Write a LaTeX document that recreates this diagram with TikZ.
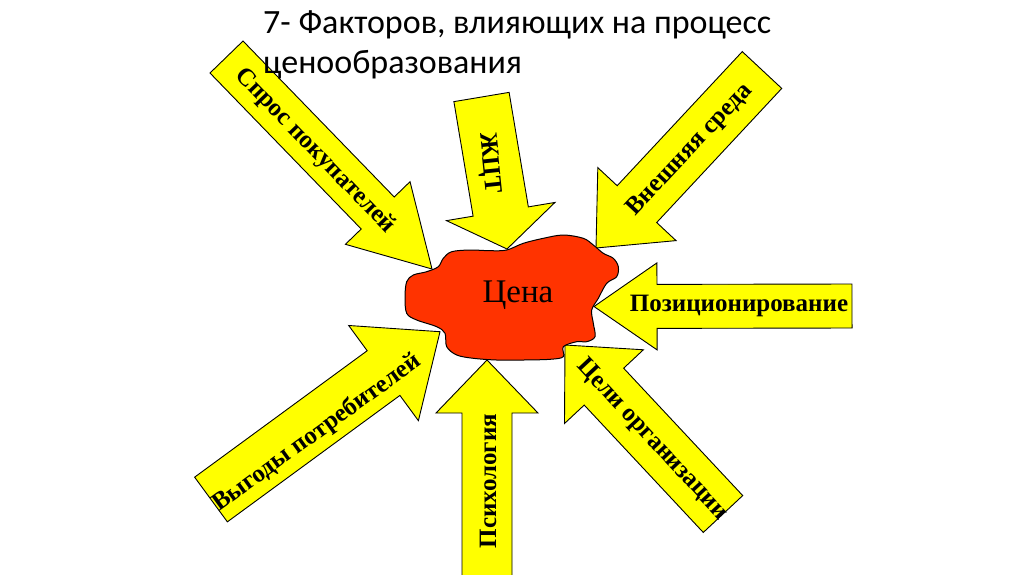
\documentclass[tikz,border=0pt]{standalone}
\usepackage{fontspec}
\setmainfont{Liberation Serif}
\newfontfamily\titlefont{Carlito}
\usetikzlibrary{calc}
\definecolor{factoryellow}{RGB}{255,255,0}
\definecolor{pricered}{RGB}{255,51,0}
\tikzset{
  factor/.style={draw=black,line width=0.9pt,fill=factoryellow,line join=miter},
  factortext/.style={font=\fontsize{25}{30}\selectfont\bfseries,inner sep=0pt},
  blob/.style={draw=black,line width=1pt,fill=pricered},
  titletext/.style={font=\titlefont\fontsize{34}{40}\selectfont,align=left,inner sep=0pt}
}
% block arrow: tail, tip, shaft half width, head half width, head length
\newcommand{\blockarrow}[5]{%
  \coordinate (hb) at ($(#2)!#5!(#1)$);
  \draw[factor] ($(#1)!#3!90:(#2)$) -- ($(hb)!#3!90:(#2)$) -- ($(hb)!#4!90:(#2)$)
    -- (#2) -- ($(hb)!#4!-90:(#2)$) -- ($(hb)!#3!-90:(#2)$) -- ($(#1)!#3!-90:(#2)$) -- cycle;}

\begin{document}
\begin{tikzpicture}[x=1pt,y=-1pt]
  \useasboundingbox[fill=white] (0,0) rectangle (1024,574);

  %% arrow ends
  \coordinate (demandtail) at (226.5,57);   \coordinate (demandtip) at (432,269);
  \coordinate (lifetail) at (481.5,97);     \coordinate (lifetip) at (507,249);
  \coordinate (outertail) at (762,70);      \coordinate (outertip) at (596,248);
  \coordinate (positail) at (852,306);      \coordinate (positip) at (594,306.5);
  \coordinate (goaltail) at (723,514);      \coordinate (goaltip) at (565,345);
  \coordinate (psychtail) at (487,578);     \coordinate (psychtip) at (487,360);
  \coordinate (benefittail) at (211,499.5); \coordinate (benefittip) at (440,331.7);

  %% arrows
  \blockarrow{demandtail}{demandtip}{23pt}{45pt}{78pt}
  \blockarrow{lifetail}{lifetip}{28pt}{55pt}{38pt}
  \blockarrow{outertail}{outertip}{27pt}{53.5pt}{60pt}
  \blockarrow{positail}{positip}{22pt}{43.5pt}{63pt}
  \blockarrow{goaltail}{goaltip}{27pt}{54pt}{57pt}
  \blockarrow{psychtail}{psychtip}{25pt}{51pt}{53pt}
  \blockarrow{benefittail}{benefittip}{27.7pt}{59pt}{70pt}

  %% price blob
  \draw[blob] plot[smooth cycle,tension=0.55] coordinates {
    (451.7,251.7) (470,250) (490,250.7) (506.7,250) (523.3,243.3) (543.3,238.3)
    (563.3,235) (583.3,238.3) (593.3,245) (603.3,253.3) (613.3,258.3) (618.3,266.7)
    (616.7,276.7) (606.7,283.3) (598.3,298.3) (591.7,310) (593.3,323.3) (595,336.7)
    (586.7,341.7) (576.7,341.7) (563.3,346.7) (563.3,356.7) (550,359.3) (523.3,360)
    (496.7,360) (473.3,358.3) (456.7,355) (446.7,346.7) (445,333.3) (436.7,326.7)
    (416.7,320) (406.7,313.3) (405,296.7) (406.7,281.7) (413.3,275) (426.7,271.7)
    (438.3,266.7) (443.3,258.3)};
  \node[font=\fontsize{33}{36}\selectfont,inner sep=0pt] (price) at (518,295) {Цена};

  %% labels
  \node[factortext,rotate=-46] (demand) at (315,151) {Спрос покупателей};
  \node[factortext,rotate=-84] (life) at (489,163) {ЖЦТ};
  \node[factortext,rotate=47] (outer) at (690,150) {Внешняя среда};
  \node[factortext] (posi) at (739,306) {Позиционирование};
  \node[factortext,rotate=-47] (goal) at (652,440) {Цели организации};
  \node[factortext,rotate=90] (psych) at (488,481) {Психология};
  \node[factortext,rotate=36] (benefit) at (317,433) {Выгоды потребителей};

  %% title
  \node[titletext,anchor=north west] (title) at (263,10)
    {7- Факторов, влияющих на процесс\\ценообразования};
\end{tikzpicture}
\end{document}
